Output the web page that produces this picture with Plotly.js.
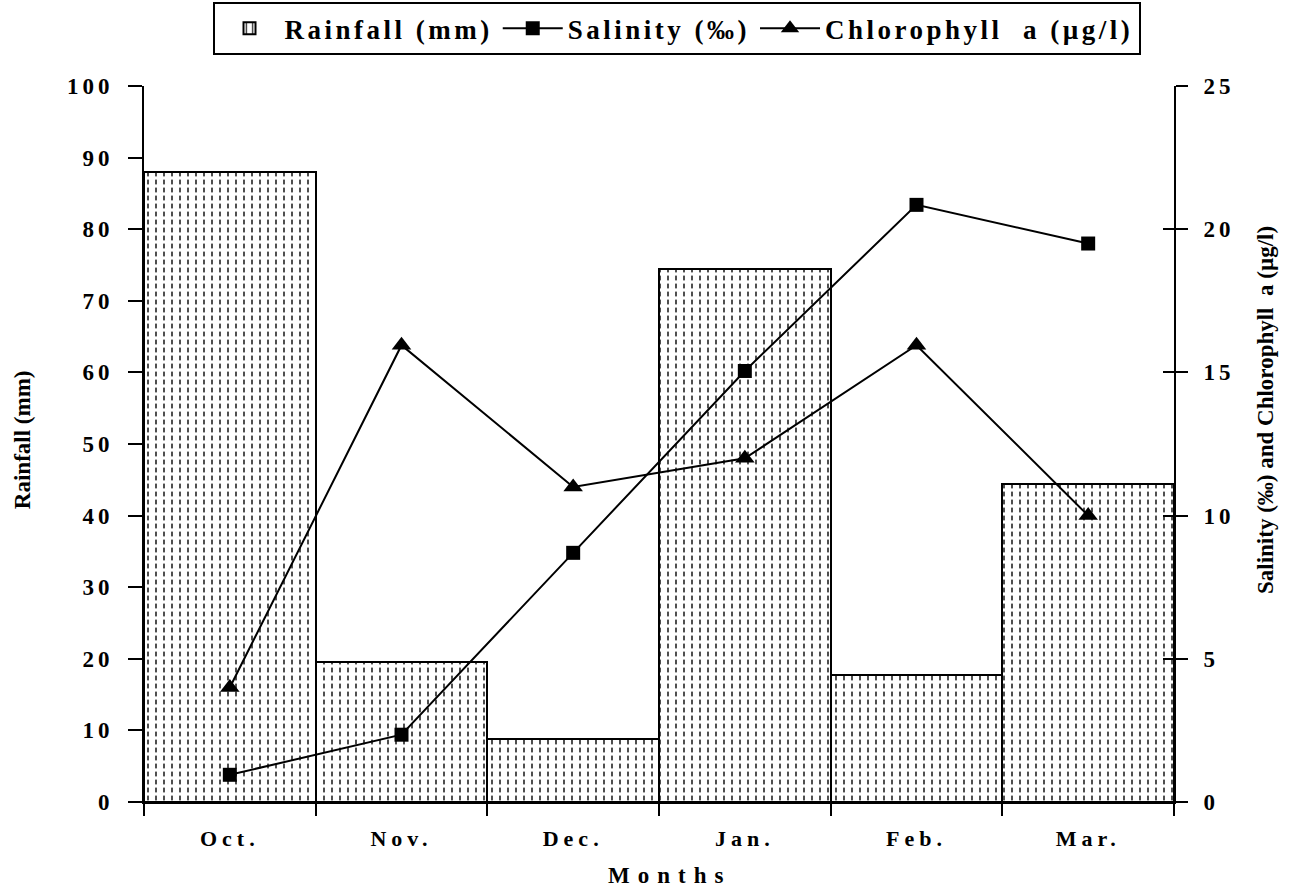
<!DOCTYPE html>
<html><head><meta charset="utf-8">
<script src="https://cdn.plot.ly/plotly-3.0.1.min.js"></script>
<style>
body{margin:0;background:#fff}#chart{width:1290px;height:892px}
.xtick text{letter-spacing:5px}
.ytick text,.y2tick text{letter-spacing:4px}
.legendtext{letter-spacing:3.5px}
g.annotation[data-index="0"] text{letter-spacing:8px}
</style>
</head><body><div id="chart"></div>
<script>
const months = ["Oct.", "Nov.", "Dec.", "Jan.", "Feb.", "Mar."];
const rainfall = [88.0, 19.6, 8.8, 74.4, 17.7, 44.4];
const salinity = [0.95, 2.35, 8.7, 15.05, 20.85, 19.5];
const chlorophyll = [4.0, 15.95, 11.0, 12.0, 15.95, 10.0];
const yTicksLeft = [0,10,20,30,40,50,60,70,80,90,100];
const yTicksRight = [0,5,10,15,20,25];

const F = "'Liberation Serif', 'Times New Roman', serif";
const traces = [
  {type:'bar', x:months, y:rainfall, name:'Rainfall (mm)', yaxis:'y',
   marker:{color:'#ffffff', line:{color:'#000', width:2},
     pattern:{shape:'|', fgcolor:'#222', bgcolor:'#fff', size:8, solidity:0.2}}},
  {type:'bar', x:months, y:rainfall, showlegend:false, hoverinfo:'skip', yaxis:'y',
   marker:{color:'rgba(0,0,0,0)', line:{color:'#000', width:2},
     pattern:{shape:'-', fgcolor:'#ffffff', bgcolor:'rgba(0,0,0,0)', size:8, solidity:0.4}}},
  {type:'scatter', mode:'lines+markers', x:months, y:salinity, name:'Salinity (‰)', yaxis:'y2',
   line:{color:'#000', width:2}, marker:{symbol:'square', size:14, color:'#000'}},
  {type:'scatter', mode:'lines+markers', x:months, y:chlorophyll, name:'Chlorophyll  a (µg/l)', yaxis:'y2',
   line:{color:'#000', width:2}, marker:{symbol:'triangle-up', size:17, color:'#000'}},
  {type:'scatter', mode:'markers', x:[months[0]], y:[null], yaxis:'y3', showlegend:false, hoverinfo:'skip'}
];
const bold = (size) => ({family:F, size:size, weight:'bold', color:'#000'});
const layout = {
  width:1290, height:892, paper_bgcolor:'#fff', plot_bgcolor:'#fff',
  margin:{l:144, r:116, t:86, b:90, autoexpand:false},
  barmode:'overlay', bargap:0,
  font:{family:F, color:'#000'},
  showlegend:true,
  legend:{orientation:'h', x:0.517, xanchor:'center', y:1.117, yanchor:'top',
    font:bold(27), bordercolor:'#000', borderwidth:2,
    bgcolor:'#fff', itemwidth:60},
  xaxis:{type:'category', tickson:'boundaries', ticks:'outside', ticklen:12, tickwidth:1.5,
    tickcolor:'#000', showline:true, linecolor:'#000', linewidth:2, showgrid:false,
    tickfont:bold(22), ticklabelstandoff:16},
  yaxis:{range:[0,100], tickvals:yTicksLeft, ticks:'outside', ticklen:14, tickwidth:1.5,
    tickcolor:'#000', showline:true, linecolor:'#000', linewidth:2, showgrid:false,
    zeroline:false, tickfont:bold(23), ticklabelstandoff:10},
  yaxis2:{range:[0,25], tickvals:yTicksRight, overlaying:'y', side:'right', ticks:'outside',
    ticklen:12, tickwidth:1.5, tickcolor:'#000', showline:true, linecolor:'#000', linewidth:2,
    showgrid:false, zeroline:false, tickfont:bold(23)},
  yaxis3:{range:[0,25], tickvals:yTicksRight, overlaying:'y', side:'right', anchor:'x', ticks:'inside',
    ticklen:11, tickwidth:1.5, tickcolor:'#000', showline:false, showgrid:false, zeroline:false,
    showticklabels:false},
  annotations:[
    {text:'Months', xref:'paper', yref:'paper', x:0.51, y:-0.102, xanchor:'center', yanchor:'middle',
     showarrow:false, font:bold(23)},
    {text:'Rainfall (mm)', xref:'paper', yref:'paper', x:-0.118, y:0.506, xanchor:'center', yanchor:'middle',
     textangle:-90, showarrow:false, font:bold(23)},
    {text:'Salinity (‰) and Chlorophyll  a (µg/l)', xref:'paper', yref:'paper', x:1.089, y:0.547,
     xanchor:'center', yanchor:'middle', textangle:-90, showarrow:false, font:bold(23)}
  ]
};
Plotly.newPlot('chart', traces, layout, {displayModeBar:false}).then(function(){
  document.querySelectorAll('.y2tick text').forEach(function(t){ t.setAttribute('dx', '11'); });
});
</script></body></html>
